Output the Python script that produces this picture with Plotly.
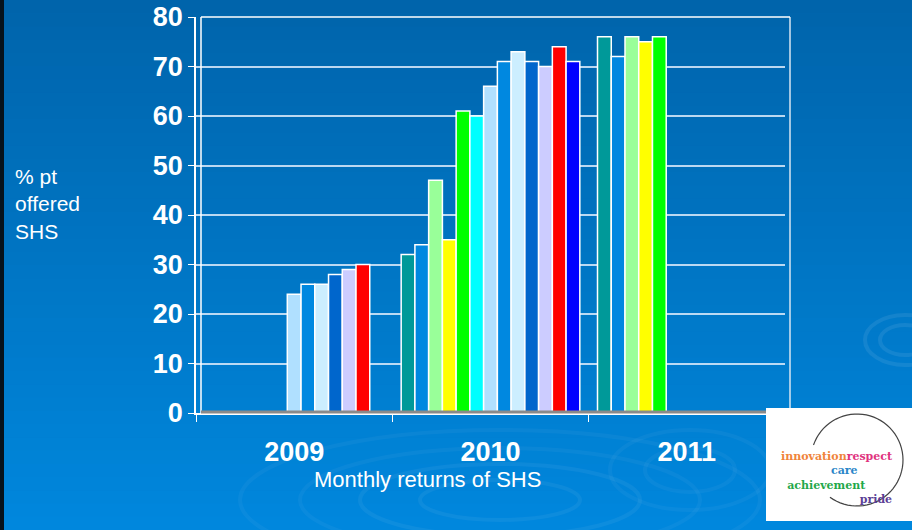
import plotly.graph_objects as go
import numpy as np

years = ["2009", "2010", "2011"]
series_names = ["M1", "M2", "M3", "M4", "M5", "M6", "M7", "M8", "M9", "M10", "M11", "M12", "M13"]
colors = ["#009999", "#0088e0", "#99ff99", "#ffff00", "#00ff00", "#00ffff",
          "#b0e0ff", "#0088e0", "#cceeff", "#0066cc", "#ccccff", "#ff0000", "#0000ff"]
v2009 = [None, None, None, None, None, None, 24, 26, 26, 28, 29, 30, None]
v2010 = [32, 34, 47, 35, 61, 60, 66, 71, 73, 71, 70, 74, 71]
v2011 = [76, 72, 76, 75, 76, None, None, None, None, None, None, None, None]
y_ticks = [0, 10, 20, 30, 40, 50, 60, 70, 80]

W, H = 912, 530
L, R, T, B = 196, 127, 17, 117
PW, PH = W - L - R, H - T - B


def px(x):
    return (x - L) / PW


def py(y):
    return 1 - (y - T) / PH


fig = go.Figure()
for i, name in enumerate(series_names):
    fig.add_trace(go.Bar(
        x=years, y=[v2009[i], v2010[i], v2011[i]], name=name,
        marker=dict(color=colors[i], line=dict(color="white", width=1.5)),
        showlegend=False,
    ))

shapes = []
# background gradient
top = np.array([0x00, 0x64, 0xab])
bot = np.array([0x00, 0x88, 0xde])
n = 40
for k in range(n):
    c = top + (bot - top) * (k + 0.5) / n
    shapes.append(dict(type="rect", xref="paper", yref="paper", layer="below",
                       x0=px(0), x1=px(W), y0=py(H * k / n - (1 if k == 0 else 0)), y1=py(H * (k + 1) / n + 0.5),
                       fillcolor="rgb(%d,%d,%d)" % tuple(c.astype(int)), line=dict(width=0)))
# ripples
for (cx, cy, rx, ry, op) in [(500, 500, 260, 70, 0.04), (500, 500, 200, 52, 0.04), (500, 500, 140, 36, 0.05),
                             (500, 500, 80, 20, 0.05), (690, 470, 80, 40, 0.04), (690, 470, 45, 22, 0.04),
                             (905, 340, 40, 25, 0.08), (905, 340, 25, 15, 0.08)]:
    shapes.append(dict(type="circle", xref="paper", yref="paper", layer="below",
                       x0=px(cx - rx), x1=px(cx + rx), y0=py(cy + ry), y1=py(cy - ry),
                       line=dict(color="rgba(255,255,255,%.2f)" % op, width=4)))
# left dark edge
shapes.append(dict(type="rect", xref="paper", yref="paper", x0=px(0), x1=px(4), y0=py(H), y1=py(0),
                   fillcolor="#06121c", line=dict(width=0)))
# back-wall frame offset lines (3D look)
shapes.append(dict(type="line", xref="paper", yref="paper", x0=px(201), x1=px(201), y0=py(413), y1=py(17),
                   line=dict(color="white", width=1.5)))
shapes.append(dict(type="line", xref="paper", yref="paper", x0=px(201), x1=px(790), y0=py(412), y1=py(412),
                   line=dict(color="#8a8a8a", width=3)))
shapes.append(dict(type="line", xref="paper", yref="paper", x0=px(790), x1=px(790), y0=py(412), y1=py(17),
                   line=dict(color="#d8e6f2", width=1.5)))
shapes.append(dict(type="line", xref="paper", yref="paper", x0=px(201), x1=px(790), y0=py(17), y1=py(17),
                   line=dict(color="white", width=1.5)))
# logo box
shapes.append(dict(type="rect", xref="paper", yref="paper", x0=px(766), x1=px(913), y0=py(521), y1=py(408),
                   fillcolor="white", line=dict(width=0)))
ang = np.linspace(np.deg2rad(161), np.deg2rad(-126), 60)
cxl, cyl, rl = 857, 460, 46
pts = [(px(cxl + rl * np.cos(a)), py(cyl - rl * np.sin(a))) for a in ang]
path = "M %f %f " % pts[0] + " ".join("L %f %f" % p for p in pts[1:])
shapes.append(dict(type="path", xref="paper", yref="paper", path=path,
                   line=dict(color="#444444", width=1.2)))

ann = []
ann.append(dict(text="% pt<br>offered<br>SHS", xref="paper", yref="paper", x=px(13), y=py(163),
                xanchor="left", yanchor="top", align="left", showarrow=False,
                font=dict(family="Liberation Sans, Arial", size=21, color="white")))
ann.append(dict(text="Monthly returns of SHS", xref="paper", yref="paper", x=px(427), y=py(480),
                xanchor="center", yanchor="middle", showarrow=False,
                font=dict(family="Liberation Sans, Arial", size=22, color="white")))
nb = "&nbsp;"


def sp(txt, col):
    return "<span style='color:%s'>%s</span>" % (col, txt)


logo_txt = ("<b>" + sp("innovation", "#f0843a") + sp("respect", "#e0327e") + "<br>"
            + sp("care" + nb * 9, "#2a86c8") + "<br>"
            + sp("achievement" + nb * 7, "#1fa84a") + "<br>"
            + sp("pride", "#5b3f96") + "</b>")
ann.append(dict(text=logo_txt, xref="paper", yref="paper", x=px(895), y=py(478),
                xanchor="right", yanchor="middle", align="right", showarrow=False,
                font=dict(family="DejaVu Serif", size=11)))

fig.update_layout(
    width=W, height=H, margin=dict(l=L, r=R, t=T, b=B, autoexpand=False),
    paper_bgcolor="#0070c0", plot_bgcolor="rgba(0,0,0,0)",
    barmode="group", bargap=0.09, bargroupgap=0,
    shapes=shapes, annotations=ann,
    xaxis=dict(type="category", range=[-0.5, 2.5], showgrid=False, tickson="boundaries",
               ticks="outside", ticklen=7, tickcolor="white", showline=True, linecolor="white",
               linewidth=2, tickvals=years, ticktext=["<b>%s</b>" % y for y in years],
               automargin=False, ticklabelstandoff=14,
               tickfont=dict(family="Liberation Sans, Arial", size=27, color="white")),
    yaxis=dict(range=[0, 80], tickvals=y_ticks, ticktext=["<b>%d</b>" % v for v in y_ticks],
               showgrid=True, gridcolor="rgba(220,235,250,0.85)", gridwidth=1.5,
               ticks="outside", ticklen=6, tickcolor="white", showline=True, linecolor="white",
               linewidth=1.5, zeroline=False, automargin=False,
               tickfont=dict(family="Liberation Sans, Arial", size=27, color="white")),
)
fig.write_html("out.html", config={"displayModeBar": False},
               post_script="document.body.style.margin='0';document.body.style.overflow='hidden';")
